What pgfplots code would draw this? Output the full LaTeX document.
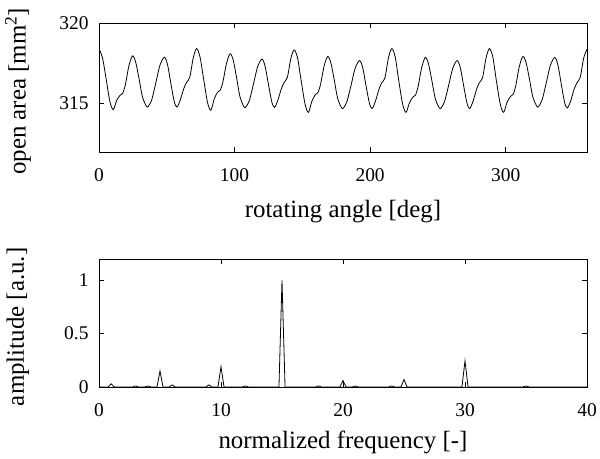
\documentclass[border=0pt]{standalone}
\usepackage{fontspec}
\setmainfont{Liberation Serif}
\usepackage{pgfplots}
\pgfplotsset{compat=1.18}
\begin{document}
\begin{tikzpicture}
\useasboundingbox (0bp,0bp) rectangle (600bp,459bp);
\pgfplotsset{
 mystyle/.style={
  scale only axis, width=488bp,
  tick align=inside, major tick length=5bp,
  axis line style={line width=0.8bp},
  every tick/.style={black,line width=0.8bp},
  /pgf/number format/assume math mode=true,
  tick label style={font=\fontsize{19.5}{22}\selectfont},
  label style={font=\fontsize{25}{28}\selectfont},
  xticklabel style={anchor=base, yshift=-29.5bp},
  yticklabel style={xshift=-7bp},
  ylabel style={at={(axis description cs:-0.166,0.47)}, anchor=center},
 }
}
\begin{axis}[mystyle, at={(99bp,307bp)}, anchor=south west, height=129bp,
  xmin=0, xmax=360, ymin=312, ymax=320,
  xtick={0,100,200,300}, ytick={315,320},
  xlabel style={at={(axis description cs:0.5,-0.46)}, anchor=center},
  xlabel={rotating angle [deg]}, ylabel={open area [mm\textsuperscript{2}]}]
\addplot[black, line width=0.8bp, smooth, tension=0.5] coordinates {
(0,318.38) (2.5,317.87) (5,316.67) (8,315.14) (10.5,314.63) (13,315.19) (15.5,315.51) (17.5,315.64) (19.5,316.19) (22,317.32) (24.7,317.96) (27,317.59) (29.5,316.56) (32,315.44) (35,314.83) (36.5,314.85) (39,315.26) (42,316.32) (45,317.39) (48.2,317.88) (50.5,317.44) (53,316.26) (55.5,315.13) (57.5,314.79) (60,315.24) (62.5,315.92) (64.5,316.30) (67,316.65) (69.5,317.83)
(72,318.41) (74.5,317.90) (77,316.63) (80,315.10) (82.5,314.59) (85,315.29) (87.5,315.71) (89.5,315.84) (91.5,316.38) (94,317.47) (96.7,318.09) (99,317.70) (101.5,316.61) (104,315.43) (107,314.79) (108.5,314.81) (111,315.21) (114,316.24) (117,317.28) (120.2,317.76) (122.5,317.33) (125,316.19) (127.5,315.10) (129.5,314.77) (132,315.23) (134.5,315.92) (136.5,316.30) (139,316.65) (141.5,317.79)
(144,318.33) (146.5,317.82) (149,316.50) (152,314.97) (154.5,314.46) (157,315.14) (159.5,315.55) (161.5,315.68) (163.5,316.22) (166,317.31) (168.7,317.92) (171,317.54) (173.5,316.49) (176,315.35) (179,314.73) (180.5,314.75) (183,315.15) (186,316.16) (189,317.20) (192.2,317.67) (194.5,317.24) (197,316.11) (199.5,315.02) (201.5,314.69) (204,315.17) (206.5,315.88) (208.5,316.28) (211,316.63) (213.5,317.82)
(216,318.41) (218.5,317.90) (221,316.50) (224,314.97) (226.5,314.46) (229,315.05) (231.5,315.40) (233.5,315.53) (235.5,316.09) (238,317.22) (240.7,317.86) (243,317.49) (245.5,316.46) (248,315.34) (251,314.73) (252.5,314.75) (255,315.15) (258,316.16) (261,317.20) (264.2,317.67) (266.5,317.24) (269,316.11) (271.5,315.02) (273.5,314.69) (276,315.17) (278.5,315.88) (280.5,316.28) (283,316.63) (285.5,317.82)
(288,318.41) (290.5,317.90) (293,316.50) (296,314.97) (298.5,314.46) (301,315.08) (303.5,315.44) (305.5,315.57) (307.5,316.13) (310,317.28) (312.7,317.92) (315,317.56) (317.5,316.54) (320,315.43) (323,314.83) (324.5,314.85) (327,315.26) (330,316.31) (333,317.38) (336.2,317.86) (338.5,317.41) (341,316.22) (343.5,315.07) (345.5,314.73) (348,315.18) (350.5,315.90) (352.5,316.28) (355,316.63) (357.5,317.81) (360,318.38)
};
\end{axis}
\begin{axis}[mystyle, at={(99bp,72bp)}, anchor=south west, height=128bp,
  xmin=0, xmax=40, ymin=0, ymax=1.2,
  xtick={0,10,20,30,40}, ytick={0,0.5,1}, clip=false,
  xlabel style={at={(axis description cs:0.5,-0.43)}, anchor=center},
  xlabel={normalized frequency [-]}, ylabel={amplitude [a.u.]}]
\addplot[black, line width=0.8bp] coordinates {
(0,0) (0.75,0) (1,0.03) (1.25,0) (2.75,0) (3,0.01) (3.25,0) (3.75,0) (4,0.01) (4.25,0) (4.75,0) (5,0.15) (5.25,0) (5.75,0) (6,0.02) (6.25,0) (8.75,0) (9,0.02) (9.25,0) (9.75,0) (10,0.19) (10.25,0) (11.75,0) (12,0.01) (12.25,0) (14.75,0) (15,1.0) (15.25,0) (17.75,0) (18,0.01) (18.25,0) (19.75,0) (20,0.06) (20.25,0) (20.75,0) (21,0.01) (21.25,0) (23.75,0) (24,0.01) (24.25,0) (24.75,0) (25,0.07) (25.25,0) (29.75,0) (30,0.245) (30.25,0) (34.75,0) (35,0.01) (35.25,0) (40,0)
};
\end{axis}
\end{tikzpicture}
\end{document}
